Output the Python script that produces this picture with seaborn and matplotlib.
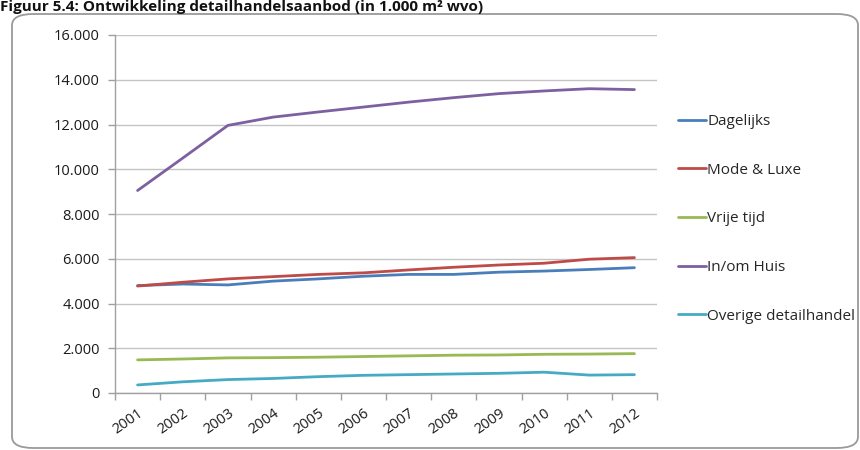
import matplotlib
matplotlib.use("Agg")
import matplotlib.pyplot as plt
from matplotlib.patches import FancyBboxPatch
from matplotlib.ticker import FuncFormatter, FixedLocator
import numpy as np
import pandas as pd
import seaborn as sns

years = [2001, 2002, 2003, 2004, 2005, 2006, 2007, 2008, 2009, 2010, 2011, 2012]
dagelijks = [4800, 4870, 4830, 5000, 5100, 5220, 5300, 5300, 5400, 5450, 5520, 5600]
mode_luxe = [4780, 4950, 5100, 5200, 5300, 5370, 5500, 5620, 5720, 5800, 5980, 6050]
vrije_tijd = [1480, 1520, 1570, 1580, 1600, 1630, 1660, 1690, 1700, 1730, 1740, 1760]
in_om_huis = [9050, 10500, 11960, 12330, 12560, 12780, 13000, 13200, 13380, 13500, 13600, 13560]
overige = [360, 500, 600, 650, 730, 790, 820, 850, 880, 930, 800, 820]

series_names = ["Dagelijks", "Mode & Luxe", "Vrije tijd", "In/om Huis", "Overige detailhandel"]
series_values = [dagelijks, mode_luxe, vrije_tijd, in_om_huis, overige]
colors = ["#4a7ebb", "#be4b48", "#98b954", "#7d60a0", "#46aac5"]

df = pd.DataFrame(
    [(y, name, v) for name, vals in zip(series_names, series_values) for y, v in zip(years, vals)],
    columns=["jaar", "categorie", "wvo"],
)

sns.set_theme(style="white")
plt.rcParams["font.family"] = ["Open Sans", "DejaVu Sans"]

fig = plt.figure(figsize=(8.6, 4.5), dpi=100)
W, H = 860, 450

# rounded frame around the chart area, kept behind the axes
frame = FancyBboxPatch(
    (12 / W, 2 / H), (846 / W), (434 / H),
    boxstyle="round,pad=0,rounding_size=0.025",
    transform=fig.transFigure, facecolor="white", edgecolor="#9a9a9a",
    linewidth=1.3, zorder=-5,
)
fig.patches.append(frame)

ax = fig.add_axes([115 / W, (H - 393) / H, (657 - 115) / W, (393 - 35) / H])
ax.set_zorder(2)
ax.set_facecolor("none")

sns.lineplot(
    data=df, x="jaar", y="wvo", hue="categorie", hue_order=series_names,
    palette=colors, linewidth=2.0, ax=ax, legend=True,
)

ax.set_ylim(0, 16000)
ax.set_xlim(years[0] - 0.5, years[-1] + 0.5)
ax.set_yticks(np.arange(0, 16001, 2000))
ax.yaxis.set_major_formatter(FuncFormatter(lambda v, p: f"{int(v):,}".replace(",", ".")))
ax.grid(axis="y", color="#c4c4c4", linewidth=1.0)
ax.set_axisbelow(True)

# category boundaries carry the tick marks, labels sit at the category centres
ax.xaxis.set_major_locator(FixedLocator([y - 0.5 for y in years] + [years[-1] + 0.5]))
ax.xaxis.set_minor_locator(FixedLocator(years))
ax.set_xticklabels([], minor=False)
ax.set_xticklabels([str(y) for y in years], minor=True)
ax.tick_params(axis="x", which="major", direction="out", length=5, color="#a0a0a0", width=1, bottom=True)
ax.tick_params(axis="x", which="minor", length=0, pad=9, labelsize=10.5, labelcolor="#1a1a1a")
for lbl in ax.get_xticklabels(minor=True):
    lbl.set_rotation(35)
    lbl.set_ha("right")
    lbl.set_rotation_mode("anchor")
ax.tick_params(axis="y", direction="out", length=5, color="#a0a0a0", width=1, left=True,
               labelsize=10.5, labelcolor="#1a1a1a", pad=6)

ax.set_xlabel("")
ax.set_ylabel("")
for side in ["top", "right"]:
    ax.spines[side].set_visible(False)
for side in ["left", "bottom"]:
    ax.spines[side].set_color("#a0a0a0")
    ax.spines[side].set_linewidth(1.0)

handles, labels = ax.get_legend_handles_labels()
ax.legend(
    handles, labels, loc="upper left", bbox_to_anchor=(672 / W, (H - 108) / H),
    bbox_transform=fig.transFigure, frameon=False, fontsize=11,
    handlelength=1.8, handletextpad=0.1, labelspacing=2.2, borderaxespad=0,
)

fig.text(0.0, 1 - 11 / H, "Figuur 5.4: Ontwikkeling detailhandelsaanbod (in 1.000 m² wvo)",
         fontsize=11, fontweight="bold", color="#111111", ha="left", va="baseline")

fig.savefig("out.png", dpi=100)
